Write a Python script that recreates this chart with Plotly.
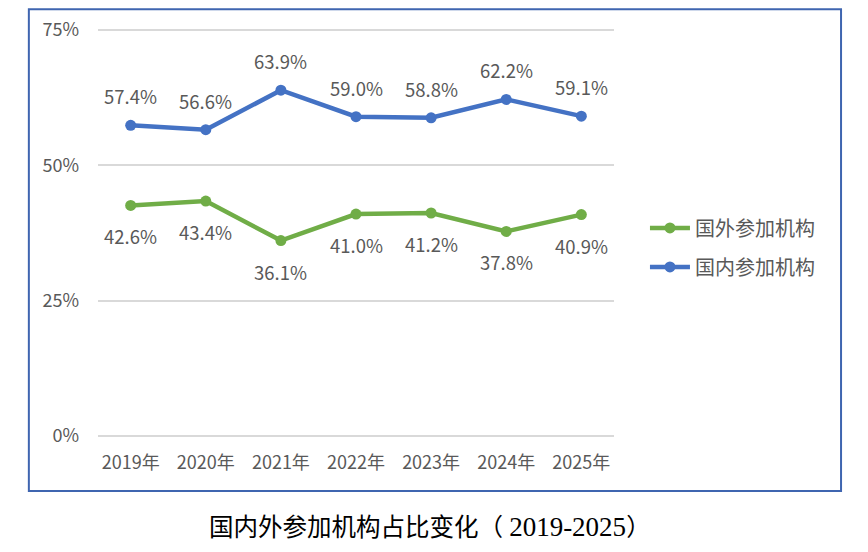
import plotly.graph_objects as go

years = ["2019年", "2020年", "2021年", "2022年", "2023年", "2024年", "2025年"]
foreign = [42.6, 43.4, 36.1, 41.0, 41.2, 37.8, 40.9]
domestic = [57.4, 56.6, 63.9, 59.0, 58.8, 62.2, 59.1]
y_ticks = [0, 25, 50, 75]
y_tick_text = ["0%", "25%", "50%", "75%"]

GREEN = "#70AD47"
BLUE = "#4472C4"
GRAY = "#595959"
FONT = "Noto Sans CJK SC, Noto Sans, sans-serif"
TITLE_FONT = "Liberation Serif, Noto Sans CJK SC, serif"

fig = go.Figure()
fig.add_trace(go.Scatter(
    x=years, y=foreign, name="国外参加机构", mode="lines+markers",
    legendgroup="f",
    line=dict(color=GREEN, width=4.5), marker=dict(size=11, color=GREEN),
))
fig.add_trace(go.Scatter(
    x=years, y=domestic, name="国内参加机构", mode="lines+markers",
    legendgroup="d",
    line=dict(color=BLUE, width=4.5), marker=dict(size=11, color=BLUE),
))

annotations = []
for yr, v in zip(years, foreign):
    annotations.append(dict(x=yr, y=v, xref="x", yref="y", text=f"{v:.1f}%",
                            showarrow=False, yshift=-31,
                            font=dict(size=18.5, color=GRAY, family=FONT)))
for yr, v in zip(years, domestic):
    annotations.append(dict(x=yr, y=v, xref="x", yref="y", text=f"{v:.1f}%",
                            showarrow=False, yshift=29,
                            font=dict(size=18.5, color=GRAY, family=FONT)))
annotations.append(dict(text="国内外参加机构占比变化（ <span style='font-size:27px'>2019-2025</span>）",
                        xref="paper", yref="paper",
                        x=(430 - 98) / 516, y=-0.216, xanchor="center", yanchor="middle",
                        showarrow=False,
                        font=dict(size=24.5, color="black", family=TITLE_FONT)))

fig.update_layout(
    width=868, height=552,
    margin=dict(l=90, r=262, t=20, b=122),
    paper_bgcolor="white", plot_bgcolor="white",
    font=dict(family=FONT, color=GRAY),
    showlegend=True,
    legend=dict(x=1.06, y=0.560, xanchor="left", yanchor="top", traceorder="grouped",
                font=dict(size=20, color=GRAY, family=FONT),
                tracegroupgap=10, itemwidth=40, bgcolor="rgba(0,0,0,0)"),
    xaxis=dict(type="category", showgrid=False, showline=False, ticks="", automargin=False,
               tickfont=dict(size=18, color=GRAY, family=FONT), ticklabelstandoff=12),
    yaxis=dict(range=[-0.4, 75.4], tickvals=y_ticks, ticktext=y_tick_text, automargin=False,
               showgrid=True, gridcolor="#D9D9D9", gridwidth=1.5, zeroline=False,
               showline=False, ticks="", tickfont=dict(size=18, color=GRAY, family=FONT),
               ticklabelstandoff=18),
    shapes=[dict(type="rect", xref="paper", yref="paper",
                 x0=-0.134, x1=1.44, y0=-0.129, y1=1.046,
                 line=dict(color="#3F65B0", width=2), fillcolor="rgba(0,0,0,0)")],
    annotations=annotations,
)

fig.write_html("out.html")
